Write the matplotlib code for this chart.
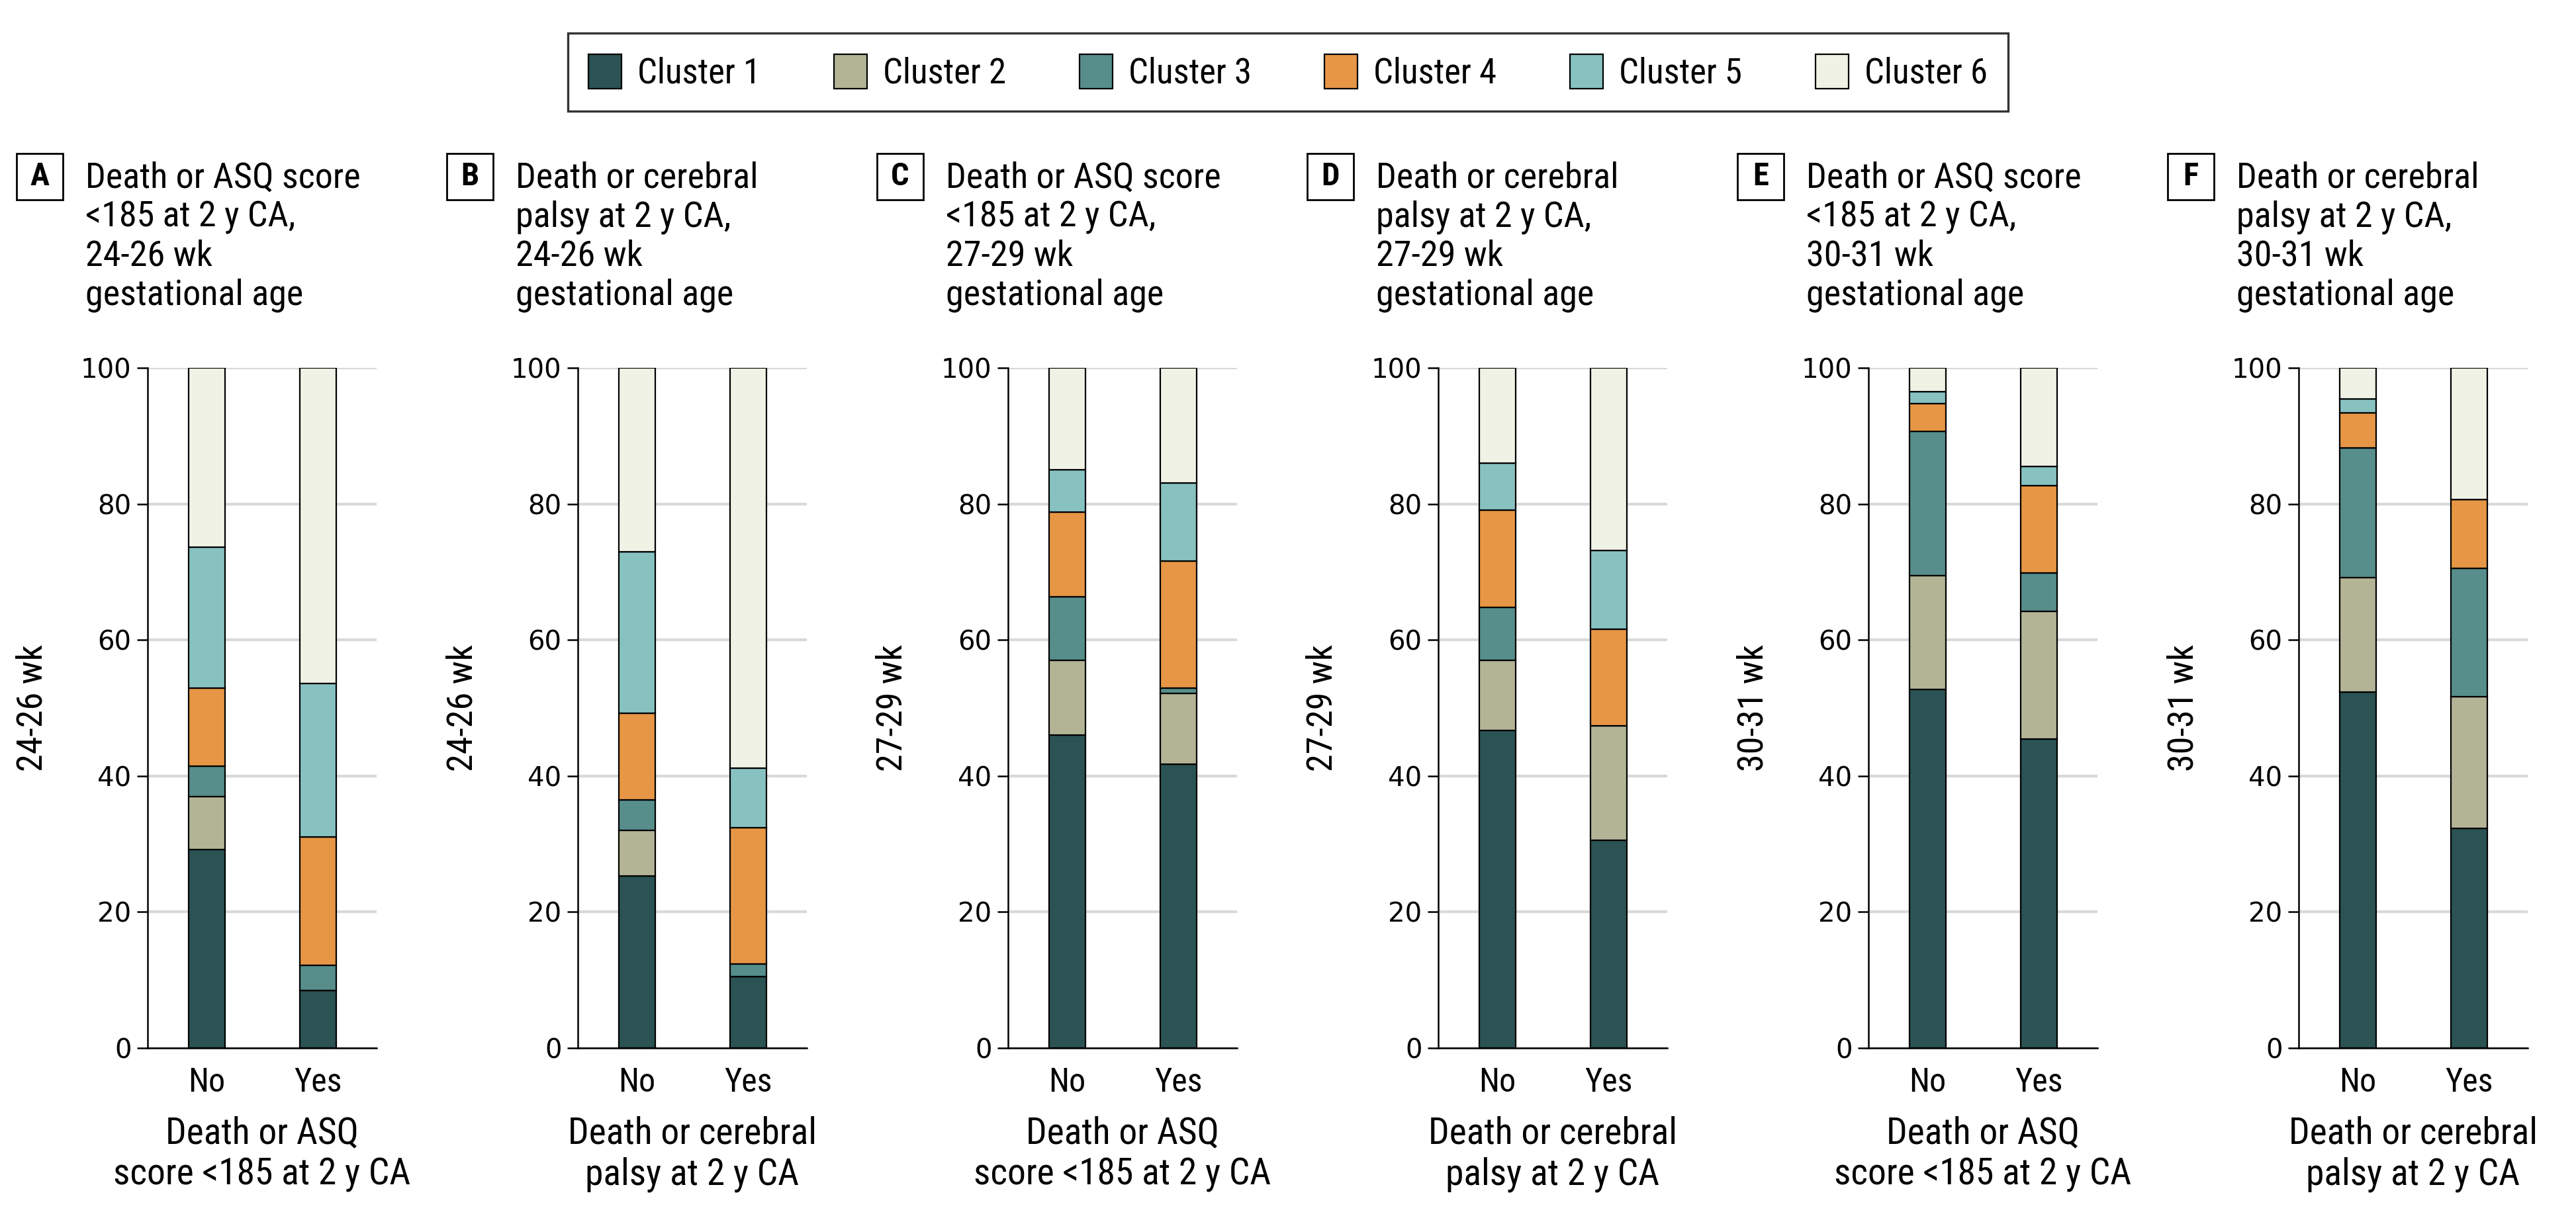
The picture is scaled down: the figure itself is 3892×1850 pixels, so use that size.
import matplotlib
matplotlib.use("Agg")
import matplotlib.pyplot as plt
from matplotlib import font_manager as fm
from matplotlib.patches import Patch, Rectangle

# stacked shares (%) per cluster, order: A No, A Yes, B No, B Yes, ... F No, F Yes
cluster1 = [29.2, 8.5, 25.3, 10.5, 46.0, 41.7, 46.7, 30.5, 52.7, 45.4, 52.3, 32.3]
cluster2 = [7.8, 0.0, 6.7, 0.0, 11.0, 10.4, 10.3, 16.9, 16.8, 18.8, 16.9, 19.4]
cluster3 = [4.4, 3.7, 4.5, 1.9, 9.3, 0.8, 7.8, 0.0, 21.2, 5.6, 19.0, 18.8]
cluster4 = [11.5, 18.8, 12.7, 20.0, 12.5, 18.7, 14.3, 14.2, 4.0, 12.9, 5.2, 10.1]
cluster5 = [20.7, 22.6, 23.8, 8.7, 6.2, 11.5, 6.9, 11.6, 1.8, 2.8, 2.0, 0.0]
cluster6 = [26.4, 46.4, 27.0, 58.9, 15.0, 16.9, 14.0, 26.8, 3.5, 14.5, 4.6, 19.4]

cluster_names = ["Cluster 1", "Cluster 2", "Cluster 3", "Cluster 4", "Cluster 5", "Cluster 6"]
groups = ["No", "Yes"]
panel_letters = ["A", "B", "C", "D", "E", "F"]
age_labels = ["24-26 wk", "24-26 wk", "27-29 wk", "27-29 wk", "30-31 wk", "30-31 wk"]
panel_titles = [
    "Death or ASQ score\n<185 at 2 y CA,\n24-26 wk\ngestational age",
    "Death or cerebral\npalsy at 2 y CA,\n24-26 wk\ngestational age",
    "Death or ASQ score\n<185 at 2 y CA,\n27-29 wk\ngestational age",
    "Death or cerebral\npalsy at 2 y CA,\n27-29 wk\ngestational age",
    "Death or ASQ score\n<185 at 2 y CA,\n30-31 wk\ngestational age",
    "Death or cerebral\npalsy at 2 y CA,\n30-31 wk\ngestational age",
]
asq_xlabel = "Death or ASQ\nscore <185 at 2 y CA"
cp_xlabel = "Death or cerebral\npalsy at 2 y CA"
x_labels = [asq_xlabel, cp_xlabel] * 3

colors = ["#2b5353", "#b3b496", "#578e8b", "#e69645", "#87c2c1", "#f0f2e6"]
series = [cluster1, cluster2, cluster3, cluster4, cluster5, cluster6]

# look for a condensed face (the original uses a narrow sans)
narrow_ok = ("condensed", "semi-condensed", "extra-condensed")
picked = None
for want in ["Roboto Condensed", "Liberation Sans Narrow", "Open Sans Condensed",
             "Noto Sans", "Open Sans", "DejaVu Sans", "Roboto", "Lato", "Inter"]:
    for f in fm.fontManager.ttflist:
        if f.name == want and f.style == "normal" and f.weight in (400, "normal", "regular") \
                and (f.stretch in narrow_ok or "Condensed" in want or "Narrow" in want):
            picked = f
            break
    if picked:
        break

if picked is not None:
    plt.rcParams["font.family"] = [picked.name, "DejaVu Sans"]
    plt.rcParams["font.stretch"] = picked.stretch
    txt = 19.5
else:
    plt.rcParams["font.family"] = ["DejaVu Sans"]
    txt = 15

W, H = 3892, 1850
fig = plt.figure(figsize=(W / 200, H / 200), dpi=200)

for i in range(6):
    left = 223 + 650 * i
    ax = fig.add_axes([left / W, 1 - 1584 / H, 346 / W, 1028 / H])
    bottom = [0.0, 0.0]
    for vals, col in zip(series, colors):
        h = vals[2 * i:2 * i + 2]
        ax.bar([0, 1], h, bottom=bottom, width=0.327, color=col,
               edgecolor="black", linewidth=0.8, zorder=3)
        bottom = [b + v for b, v in zip(bottom, h)]
    ax.set_xlim(-0.533, 1.527)
    ax.set_ylim(0, 100)
    ax.set_yticks([0, 20, 40, 60, 80, 100])
    ax.set_xticks([0, 1])
    ax.set_xticklabels(groups, fontsize=txt - 1.5)
    for t in ax.get_yticklabels():
        t.set_fontfamily("DejaVu Sans")
        t.set_fontstretch("normal")
        t.set_fontsize(14.5)
    ax.tick_params(axis="y", length=5.8, width=0.9, pad=3)
    ax.tick_params(axis="x", length=0, pad=10)
    ax.yaxis.grid(True, color="#d9d9d9", linewidth=1.5, zorder=0)
    ax.set_axisbelow(True)
    for s in ["top", "right"]:
        ax.spines[s].set_visible(False)
    for s in ["left", "bottom"]:
        ax.spines[s].set_linewidth(0.9)
        ax.spines[s].set_zorder(4)
    ax.set_ylabel(age_labels[i], fontsize=txt)
    ax.yaxis.set_label_coords(-0.43, 0.5)
    ax.set_xlabel(x_labels[i], fontsize=txt + 0.5, linespacing=1.2)
    ax.xaxis.set_label_coords(0.5, -0.1)

    # panel letter box and title
    bx = left - 163
    fig.patches.append(Rectangle(((bx - 35) / W, 1 - 302 / H), 70 / W, 70 / H,
                                 transform=fig.transFigure, facecolor="white",
                                 edgecolor="black", linewidth=1.0))
    fig.text(bx / W, 1 - 267 / H, panel_letters[i], ha="center", va="center",
             fontsize=txt - 2, fontweight="bold")
    fig.text((left - 94) / W, 1 - 244 / H, panel_titles[i], ha="left", va="top",
             fontsize=txt, linespacing=1.19)

handles = [Patch(facecolor=c, edgecolor="black", linewidth=0.8) for c in colors]
leg = fig.legend(handles, cluster_names, loc="upper center", ncol=6,
                 bbox_to_anchor=(0.5, 1 - 50 / H), fontsize=txt - 0.5, frameon=True,
                 fancybox=False, edgecolor="black", borderpad=0.6,
                 handlelength=0.95, handleheight=1.15, handletextpad=0.45,
                 columnspacing=2.1, borderaxespad=0)
leg.get_frame().set_linewidth(1.2)

fig.savefig("out.png", dpi=200, facecolor="white")
